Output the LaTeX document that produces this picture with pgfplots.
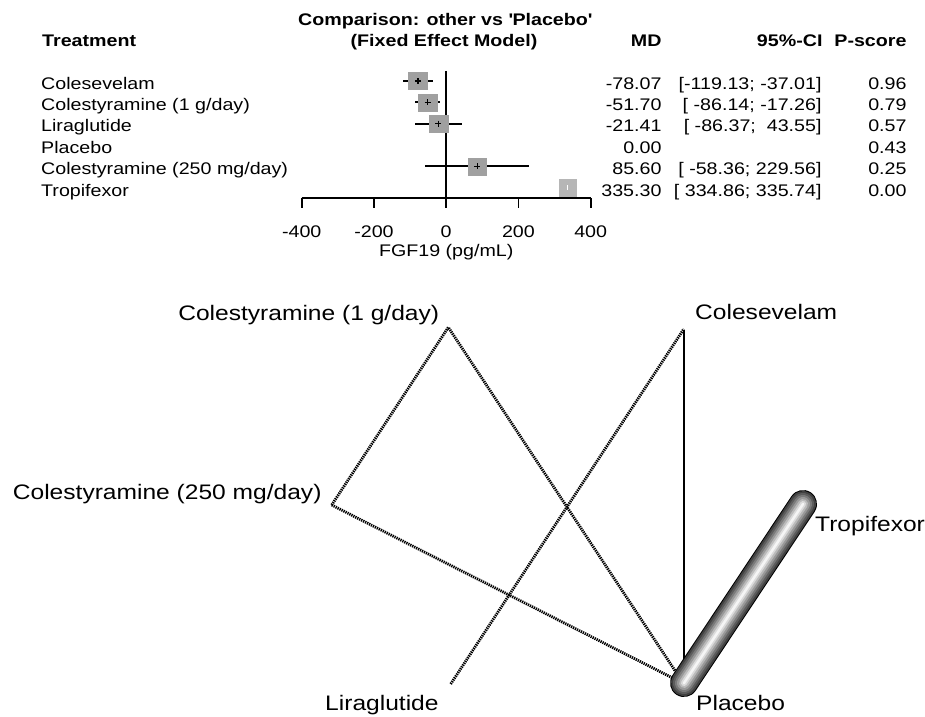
\documentclass[border=0pt]{standalone}
\usepackage{pgfplots}
\pgfplotsset{compat=1.18}
\usepackage{fontspec}
\setmainfont{Liberation Sans}[FakeStretch=1.17]
\definecolor{boxgray}{RGB}{160,160,160}
\definecolor{boxlight}{RGB}{182,182,182}
\newcommand\ftop{\fontsize{16.8bp}{20bp}\selectfont}
\newcommand\fbot{\fontsize{21bp}{25bp}\selectfont}
\begin{document}
\begin{tikzpicture}
\useasboundingbox (0,0) rectangle (925bp,717bp);
% ---------------- network graph (pixel coordinates) ----------------
\begin{axis}[at={(0,0)}, anchor=south west, scale only axis,
  width=925bp, height=717bp, xmin=0, xmax=925, ymin=0, ymax=717,
  y dir=reverse, hide axis, clip=false]
% dotted edges
\addplot[black, line width=2.8bp, dash pattern=on 1.3bp off 0.9bp] coordinates {(331.7,505) (448.3,327.3) (683.5,683.5)};
\addplot[black, line width=2.8bp, dash pattern=on 1.3bp off 0.9bp] coordinates {(331.7,505) (683.5,683.5)};
\addplot[black, line width=2.8bp, dash pattern=on 1.3bp off 0.9bp] coordinates {(450.7,684) (683.8,329)};
% solid edge
\addplot[black, line width=2bp] coordinates {(683.5,330) (683.5,683.5)};
% thick shaded tube Placebo - Tropifexor
\addplot[black, line width=28bp, line cap=round] coordinates {(684,683) (803,504)};
\addplot[white!25!black, line width=26bp, line cap=round] coordinates {(684,683) (803,504)};
\addplot[white!36!black, line width=22bp, line cap=round] coordinates {(684,683) (803,504)};
\addplot[white!48!black, line width=18bp, line cap=round] coordinates {(684,683) (803,504)};
\addplot[white!60!black, line width=14bp, line cap=round] coordinates {(684,683) (803,504)};
\addplot[white!73!black, line width=10bp, line cap=round] coordinates {(684,683) (803,504)};
\addplot[white!86!black, line width=6bp, line cap=round] coordinates {(684,683) (803,504)};
\addplot[white!96!black, line width=2.5bp, line cap=round] coordinates {(684,683) (803,504)};
% node labels
\node[anchor=base east, inner sep=0, font=\fbot] at (axis cs:439.3,320.7) {Colestyramine (1 g/day)};
\node[anchor=base west, inner sep=0, font=\fbot] at (axis cs:695,319.3) {Colesevelam};
\node[anchor=base east, inner sep=0, font=\fbot] at (axis cs:321.7,499.3) {Colestyramine (250 mg/day)};
\node[anchor=base west, inner sep=0, font=\fbot] at (axis cs:815,531.7) {Tropifexor};
\node[anchor=base west, inner sep=0, font=\fbot] at (axis cs:325,710) {Liraglutide};
\node[anchor=base west, inner sep=0, font=\fbot] at (axis cs:696,710) {Placebo};
% ---------------- forest plot text ----------------
\node[anchor=base, inner sep=0, font=\ftop\bfseries] at (axis cs:445,25.5) {Comparison: other vs \textquotesingle Placebo\textquotesingle};
\node[anchor=base, inner sep=0, font=\ftop\bfseries] at (axis cs:444,46.5) {(Fixed Effect Model)};
\node[anchor=base west, inner sep=0, font=\ftop\bfseries] at (axis cs:42,46.7) {Treatment};
\node[anchor=base east, inner sep=0, font=\ftop\bfseries] at (axis cs:661.7,46.7) {MD};
\node[anchor=base east, inner sep=0, font=\ftop\bfseries] at (axis cs:822.7,46.7) {95\%-CI};
\node[anchor=base east, inner sep=0, font=\ftop\bfseries] at (axis cs:906.7,46.7) {P-score};
% row labels
\node[anchor=base west, inner sep=0, font=\ftop] at (axis cs:41,89.3) {Colesevelam};
\node[anchor=base west, inner sep=0, font=\ftop] at (axis cs:41,110.6) {Colestyramine (1 g/day)};
\node[anchor=base west, inner sep=0, font=\ftop] at (axis cs:41,132.0) {Liraglutide};
\node[anchor=base west, inner sep=0, font=\ftop] at (axis cs:41,153.3) {Placebo};
\node[anchor=base west, inner sep=0, font=\ftop] at (axis cs:41,174.6) {Colestyramine (250 mg/day)};
\node[anchor=base west, inner sep=0, font=\ftop] at (axis cs:41,196.0) {Tropifexor};
% MD
\node[anchor=base east, inner sep=0, font=\ftop] at (axis cs:661.7,89.3) {-78.07};
\node[anchor=base east, inner sep=0, font=\ftop] at (axis cs:661.7,110.6) {-51.70};
\node[anchor=base east, inner sep=0, font=\ftop] at (axis cs:661.7,132.0) {-21.41};
\node[anchor=base east, inner sep=0, font=\ftop] at (axis cs:661.7,153.3) {0.00};
\node[anchor=base east, inner sep=0, font=\ftop] at (axis cs:661.7,174.6) {85.60};
\node[anchor=base east, inner sep=0, font=\ftop] at (axis cs:661.7,196.0) {335.30};
% CI
\node[anchor=base east, inner sep=0, font=\ftop] at (axis cs:821.7,89.3) {[-119.13; -37.01]};
\node[anchor=base east, inner sep=0, font=\ftop] at (axis cs:821.7,110.6) {[\ -86.14; -17.26]};
\node[anchor=base east, inner sep=0, font=\ftop] at (axis cs:821.7,132.0) {[\ -86.37;\ \ 43.55]};
\node[anchor=base east, inner sep=0, font=\ftop] at (axis cs:821.7,174.6) {[\ -58.36; 229.56]};
\node[anchor=base east, inner sep=0, font=\ftop] at (axis cs:821.7,196.0) {[\ 334.86; 335.74]};
% P-score
\node[anchor=base east, inner sep=0, font=\ftop] at (axis cs:906.7,89.3) {0.96};
\node[anchor=base east, inner sep=0, font=\ftop] at (axis cs:906.7,110.6) {0.79};
\node[anchor=base east, inner sep=0, font=\ftop] at (axis cs:906.7,132.0) {0.57};
\node[anchor=base east, inner sep=0, font=\ftop] at (axis cs:906.7,153.3) {0.43};
\node[anchor=base east, inner sep=0, font=\ftop] at (axis cs:906.7,174.6) {0.25};
\node[anchor=base east, inner sep=0, font=\ftop] at (axis cs:906.7,196.0) {0.00};
\end{axis}
% ---------------- forest plot ----------------
\begin{axis}[at={(301.7bp,519bp)}, anchor=south west, scale only axis,
  width=289bp, height=127bp, xmin=-400, xmax=400, ymin=-6.485, ymax=-0.531,
  axis x line*=bottom, axis y line=none,
  axis line style={-, line width=1.8bp, black},
  xtick={-400,-200,0,200,400}, xticklabels={-400,-200,0,200,400},
  tick align=outside, major tick length=10bp,
  tick style={line width=1.8bp, black},
  xticklabel style={font=\ftop, anchor=base, yshift=-30bp},
  xlabel={FGF19 (pg/mL)},
  xlabel style={font=\ftop, at={(axis description cs:0.5,-0.462)}, anchor=base, inner sep=0},
  clip=false]
% CI lines
\addplot[black, line width=1.8bp] coordinates {(-119.13,-1) (-37.01,-1)};
\addplot[black, line width=1.8bp] coordinates {(-86.14,-2) (-17.26,-2)};
\addplot[black, line width=1.8bp] coordinates {(-86.37,-3) (43.55,-3)};
\addplot[black, line width=1.8bp] coordinates {(-58.36,-5) (229.56,-5)};
% boxes
\addplot[only marks, mark=square*, mark size=8.4bp, color=boxgray, mark options={xscale=1.12}] coordinates {(-78.07,-1) (-51.70,-2) (-21.41,-3) (85.60,-5)};
\addplot[only marks, mark=square*, mark size=8.2bp, color=boxlight, mark options={xscale=1.05}] coordinates {(335.30,-6)};
% centre marks
\addplot[only marks, mark=+, mark size=3bp, black, line width=1.2bp] coordinates {(-78.07,-1) (-51.70,-2) (-21.41,-3) (85.60,-5)};
\addplot[only marks, mark=|, mark size=2.5bp, white, line width=1bp] coordinates {(335.30,-6)};
% zero line
\addplot[black, line width=1.8bp] coordinates {(0,-0.531) (0,-6.485)};
\end{axis}
\end{tikzpicture}
\end{document}
